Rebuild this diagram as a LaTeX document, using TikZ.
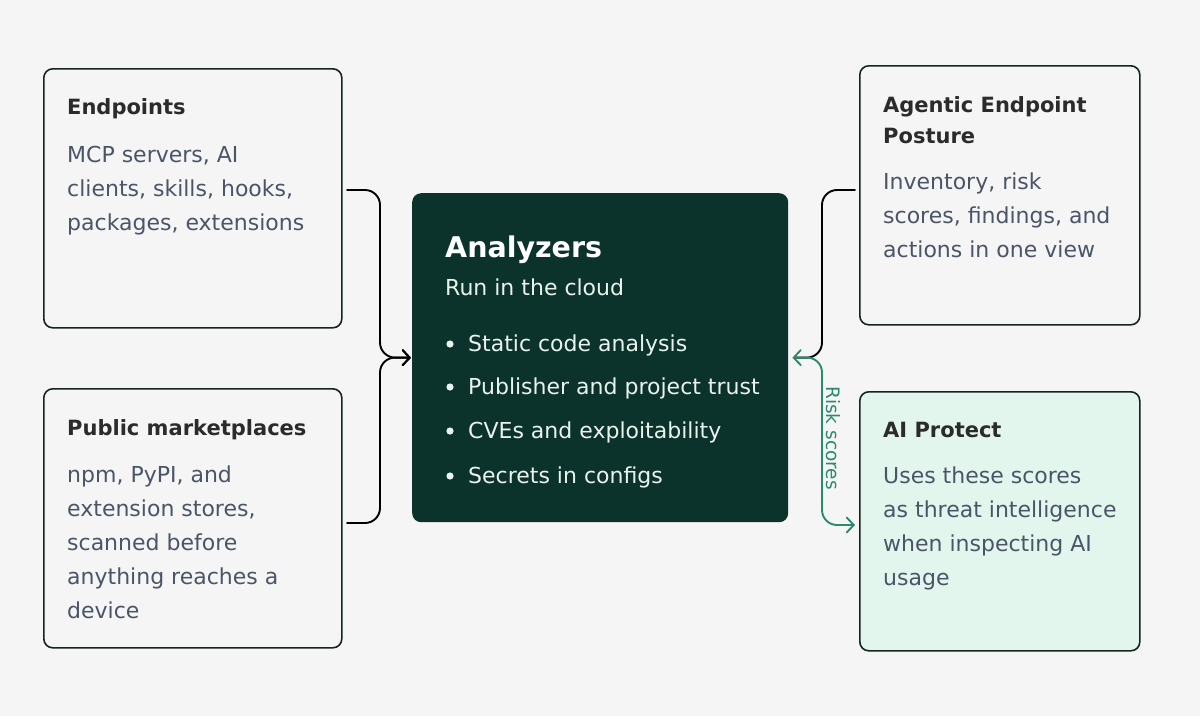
\documentclass[tikz,border=0pt]{standalone}
\usepackage{fontspec}
\setmainfont{DejaVu Sans}
\usetikzlibrary{arrows.meta}
\definecolor{bg}{HTML}{F5F5F5}
\definecolor{edge}{HTML}{14241F}
\definecolor{dark}{HTML}{0B332C}
\definecolor{mint}{HTML}{E3F6EE}
\definecolor{body}{HTML}{4A5568}
\definecolor{ttl}{HTML}{2B2B2B}
\definecolor{lite}{HTML}{EAF2EE}
\definecolor{grn}{HTML}{2A8A70}
\newcommand{\lns}[1]{\begin{tabular}[t]{@{}l@{}}#1\end{tabular}}
\tikzset{
  card/.style={draw=edge, line width=1.6pt, rounded corners=9pt, fill=bg, anchor=north west, inner sep=0pt},
  ttltext/.style={anchor=base west, inner sep=0pt, text=ttl, font=\fontsize{21}{31}\selectfont\bfseries},
  bodytext/.style={anchor=base west, inner sep=0pt, text=body, font=\fontsize{22}{34}\selectfont},
  wtext/.style={anchor=base west, inner sep=0pt, text=lite, font=\fontsize{22}{34}\selectfont},
  conn/.style={line width=1.9pt, rounded corners=15pt, line cap=round},
  tip/.style={-{Straight Barb[length=7pt,width=15pt,line cap=round]}},
}
\begin{document}
\begin{tikzpicture}[x=1pt,y=-1pt]
\useasboundingbox[fill=bg] (0,0) rectangle (1200,716);
% cards
\node[card, minimum width=298pt, minimum height=259pt] (ep) at (43,68) {};
\node[card, minimum width=298pt, minimum height=259pt] (pm) at (43,388) {};
\node[card, minimum width=280pt, minimum height=259pt] (ap) at (859,65) {};
\node[card, fill=mint, minimum width=280pt, minimum height=259pt] (aip) at (859,391) {};
\node[draw=none, fill=dark, rounded corners=9pt, anchor=north west, inner sep=0pt, minimum width=376pt, minimum height=329pt] (an) at (412,193) {};
% texts
\node[ttltext] (ept) at (67,114) {Endpoints};
\node[bodytext] (epb) at (67,162) {\lns{MCP servers, AI\\clients, skills, hooks,\\packages, extensions}};
\node[ttltext] (pmt) at (67,435) {Public marketplaces};
\node[bodytext] (pmb) at (67,482) {\lns{npm, PyPI, and\\extension stores,\\scanned before\\anything reaches a\\device}};
\node[ttltext] (apt) at (883,112) {\lns{Agentic Endpoint\\Posture}};
\node[bodytext] (apb) at (883,189) {\lns{Inventory, risk\\scores, findings, and\\actions in one view}};
\node[ttltext] (aipt) at (883,437) {AI Protect};
\node[bodytext] (aipb) at (883,483) {\lns{Uses these scores\\as threat intelligence\\when inspecting AI\\usage}};
\node[anchor=base west, inner sep=0pt, text=white, font=\fontsize{28.5}{34}\selectfont\bfseries] (ant) at (445,257) {Analyzers};
\node[wtext] (ans) at (445,295) {Run in the cloud};
\foreach \i/\y/\t in {1/351/Static code analysis, 2/394/Publisher and project trust, 3/438/CVEs and exploitability, 4/483/Secrets in configs}{
  \fill[lite] (450,\y-7) circle (3.6pt);
  \node[wtext] (b\i) at (468,\y) {\t};
}
% connectors
\coordinate (a1) at (347,190);
\coordinate (a2) at (347,523);
\coordinate (r1) at (855,190);
\coordinate (r2) at (855,525);
\draw[conn, tip, shorten >=1pt] (a1) -- (380,190) -- (380,357.5) -- (an.west);
\draw[conn, tip, shorten >=1pt] (a2) -- (380,523) -- (380,357.5) -- (an.west);
\draw[conn] ([xshift=6pt]an.east) -- (822,357.5) -- (822,190) -- (r1);
\draw[conn, draw=grn, tip] (822,380) -- (822,525) -- (r2);
\draw[conn, draw=grn, tip] (822,380) -- (822,357.5) -- ([xshift=4pt]an.east);
\node[rotate=-90, text=grn, font=\fontsize{18.5}{20}\selectfont, inner sep=0pt] (rs) at (833,438) {Risk scores};
\end{tikzpicture}
\end{document}
